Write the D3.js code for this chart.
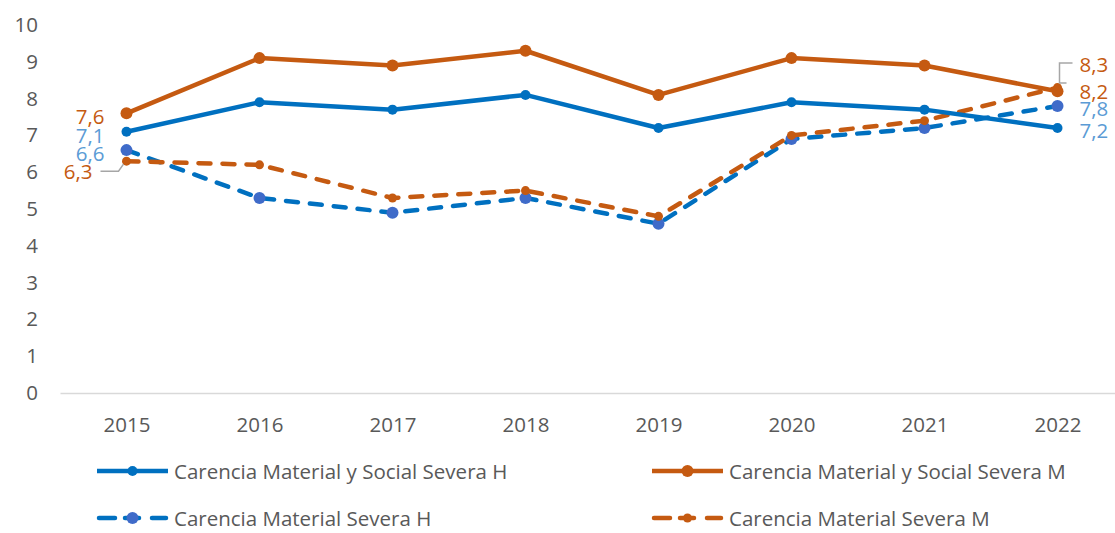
<!DOCTYPE html>
<html>
<head>
<meta charset="utf-8">
<script src="https://cdn.jsdelivr.net/npm/d3@7"></script>
<style>
  body { margin: 0; background: #fff; }
  svg text { font-family: "Open Sans", "Noto Sans", sans-serif; }
</style>
</head>
<body>
<div id="chart"></div>
<script>
// data
const years = ["2015", "2016", "2017", "2018", "2019", "2020", "2021", "2022"];
const cmssH = [7.1, 7.9, 7.7, 8.1, 7.2, 7.9, 7.7, 7.2];
const cmssM = [7.6, 9.1, 8.9, 9.3, 8.1, 9.1, 8.9, 8.2];
const cmsH = [6.6, 5.3, 4.9, 5.3, 4.6, 6.9, 7.2, 7.8];
const cmsM = [6.3, 6.2, 5.3, 5.5, 4.8, 7.0, 7.4, 8.3];
const yTicks = [0, 1, 2, 3, 4, 5, 6, 7, 8, 9, 10];

const BLUE = "#0070C0", ORANGE = "#C55A11", LBLUE = "#5B9BD5", GREY = "#595959";
const FS = "20.5px";

const series = [
    { name: "Carencia Material y Social Severa H", values: cmssH, color: BLUE, dash: null, r: 5, fill: BLUE, labelColor: LBLUE },
    { name: "Carencia Material y Social Severa M", values: cmssM, color: ORANGE, dash: null, r: 6, fill: ORANGE, labelColor: ORANGE },
    { name: "Carencia Material Severa H", values: cmsH, color: BLUE, dash: "12,12", r: 6, fill: "#3F6BC9", labelColor: LBLUE },
    { name: "Carencia Material Severa M", values: cmsM, color: ORANGE, dash: "12,12", r: 4.5, fill: ORANGE, labelColor: ORANGE }
];

const W = 1115, H = 533;
const svg = d3.select("#chart").append("svg")
    .attr("width", W)
    .attr("height", H);

const x = d3.scalePoint().domain(years).range([60, 1124]).padding(0.5);
const y = d3.scaleLinear().domain([0, 10]).range([393, 25]);

// y axis labels only
const yAxis = svg.append("g")
    .attr("transform", "translate(46,0)")
    .call(d3.axisLeft(y).tickValues(yTicks).tickSize(0).tickPadding(8).tickFormat(d3.format("d")));
yAxis.select(".domain").remove();
yAxis.selectAll("text").attr("fill", GREY).style("font-size", FS);

// x axis
const xAxis = svg.append("g")
    .attr("transform", "translate(0,393)")
    .call(d3.axisBottom(x).tickSize(0).tickPadding(24));
xAxis.select(".domain").attr("stroke", "#D9D9D9").attr("stroke-width", 1.5);
xAxis.selectAll("text").attr("fill", GREY).style("font-size", FS);

const line = d3.line()
    .x((d, i) => x(years[i]))
    .y(d => y(d));

// dashed first, solid on top
const drawOrder = [2, 3, 0, 1];
drawOrder.forEach(k => {
    const s = series[k];
    const g = svg.append("g");
    g.append("path")
        .datum(s.values)
        .attr("d", line)
        .attr("fill", "none")
        .attr("stroke", s.color)
        .attr("stroke-width", 4.5)
        .attr("stroke-linejoin", "round")
        .attr("stroke-linecap", s.dash ? "round" : "butt")
        .attr("stroke-dasharray", s.dash);
    g.selectAll("circle")
        .data(s.values)
        .enter()
        .append("circle")
        .attr("cx", (d, i) => x(years[i]))
        .attr("cy", d => y(d))
        .attr("r", s.r)
        .attr("fill", s.fill);
});

// data labels at first and last point
const fmt = v => d3.format(".1f")(v).replace(".", ",");
const labelStyle = (t, color) => t.attr("fill", color).style("font-size", FS).attr("dominant-baseline", "central");

// left side labels
const x0 = x(years[0]);
const leftLabels = [
    { s: 1, yPos: 116, anchorX: x0 - 22 },
    { s: 0, yPos: 135, anchorX: x0 - 22 },
    { s: 2, yPos: 153, anchorX: x0 - 22 },
    { s: 3, yPos: 171, anchorX: x0 - 34 }
];
leftLabels.forEach(l => {
    const s = series[l.s];
    labelStyle(svg.append("text")
        .attr("x", l.anchorX)
        .attr("y", l.yPos)
        .attr("text-anchor", "end")
        .text(fmt(s.values[0])), s.labelColor);
});
// leader line for 6,3
svg.append("polyline")
    .attr("points", [[x0 - 26, y(cmsM[0]) + 10], [x0 - 8, y(cmsM[0]) + 10], [x0 - 3, y(cmsM[0]) + 3]].map(p => p.join(",")).join(" "))
    .attr("fill", "none")
    .attr("stroke", "#A6A6A6")
    .attr("stroke-width", 1.5);

// right side labels
const xN = x(years[years.length - 1]);
const last = years.length - 1;
const rightLabels = [
    { s: 3, yPos: 64 },
    { s: 1, yPos: 91 },
    { s: 2, yPos: 108 },
    { s: 0, yPos: 130 }
];
rightLabels.forEach(l => {
    const s = series[l.s];
    labelStyle(svg.append("text")
        .attr("x", xN + 22)
        .attr("y", l.yPos)
        .attr("text-anchor", "start")
        .text(fmt(s.values[last])), s.labelColor);
});
// leader bracket for 8,3
svg.append("polyline")
    .attr("points", [[xN + 15, 63], [xN + 2, 63], [xN + 2, 83], [xN + 9, 83]].map(p => p.join(",")).join(" "))
    .attr("fill", "none")
    .attr("stroke", "#A6A6A6")
    .attr("stroke-width", 1.5);

// legend
const legendPos = [
    { x: 97, y: 471 },
    { x: 652, y: 471 },
    { x: 97, y: 518 },
    { x: 652, y: 518 }
];
series.forEach((s, k) => {
    const p = legendPos[k];
    const g = svg.append("g").attr("transform", `translate(${p.x},${p.y})`);
    if (!s.dash) {
        g.append("line").attr("x1", 0).attr("x2", 71).attr("y1", 0).attr("y2", 0)
            .attr("stroke", s.color).attr("stroke-width", 4.5);
    } else {
        [[2, 18], [28, 42], [55, 69]].forEach(seg => {
            g.append("line").attr("x1", seg[0]).attr("x2", seg[1]).attr("y1", 0).attr("y2", 0)
                .attr("stroke", s.color).attr("stroke-width", 4.5).attr("stroke-linecap", "round");
        });
    }
    g.append("circle").attr("cx", 35.5).attr("cy", 0).attr("r", s.r).attr("fill", s.fill);
    g.append("text")
        .attr("x", 77)
        .attr("y", 0)
        .attr("dominant-baseline", "central")
        .attr("fill", GREY)
        .style("font-size", FS)
        .text(s.name);
});
</script>
</body>
</html>
